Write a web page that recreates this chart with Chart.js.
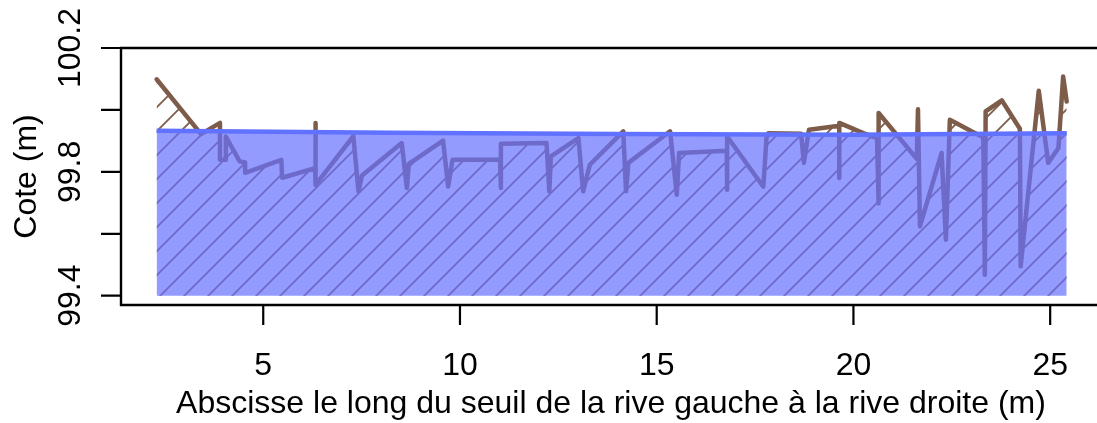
<!DOCTYPE html>
<html>
<head>
<meta charset="utf-8">
<script src="https://cdn.jsdelivr.net/npm/chart.js@4"></script>
<style>
  html, body { margin: 0; padding: 0; background: #fff; }
  canvas { display: block; }
</style>
</head>
<body>
<canvas id="myChart" width="1097" height="423"></canvas>
<script>
// terrain profile along the sill (m)
const profileX = [2.29, 3.42, 3.90, 3.90, 4.05, 4.05, 4.40, 4.54, 4.54, 5.46, 5.48, 6.32, 6.33, 6.33,
  7.29, 7.42, 7.51, 8.52, 8.65, 8.70, 9.57, 9.70, 9.81, 11.02, 11.04, 11.04, 12.20, 12.27, 12.31,
  13.01, 13.13, 13.30, 14.15, 14.22, 14.28, 15.34, 15.51, 15.57, 16.78, 16.79, 16.79, 17.71, 17.79,
  17.84, 18.67, 18.74, 18.87, 19.64, 19.64, 19.64, 20.25, 20.60, 20.64, 20.64, 21.61, 21.64, 21.69,
  22.24, 22.35, 22.45, 23.00, 23.30, 23.34, 23.36, 23.77, 24.23, 24.25, 24.71, 24.95, 25.21, 25.33, 25.42];
const profileY = [100.099, 99.922, 99.958, 99.839, 99.839, 99.914, 99.834, 99.830, 99.797, 99.839, 99.781, 99.812, 99.958, 99.758,
  99.915, 99.737, 99.788, 99.893, 99.748, 99.826, 99.901, 99.753, 99.839, 99.839, 99.748, 99.891, 99.893, 99.737, 99.850,
  99.909, 99.737, 99.823, 99.931, 99.737, 99.829, 99.931, 99.726, 99.861, 99.868, 99.742, 99.914, 99.752, 99.910,
  99.925, 99.923, 99.829, 99.936, 99.949, 99.780, 99.958, 99.925, 99.909, 99.699, 99.990, 99.842, 100.002, 99.624,
  99.861, 99.581, 99.968, 99.931, 99.912, 99.468, 99.995, 100.031, 99.939, 99.495, 100.062, 99.829, 99.877, 100.108, 100.027];

// water surface
const waterX = [2.29, 8.22, 14.07, 19.91, 25.42];
const waterY = [99.933, 99.926, 99.922, 99.920, 99.925];
const bedLevel = 99.4;

const xTicks = [5, 10, 15, 20, 25];
const yTicks = [99.4, 99.6, 99.8, 100.0, 100.2];
const yTickLabels = ["99.4", "", "99.8", "", "100.2"];

const brown = "#7d5c4a";
const font = "32px 'Liberation Sans', Arial, sans-serif";

function hatchPattern(color) {
  const s = 24;
  const c = document.createElement("canvas");
  c.width = s;
  c.height = s;
  const g = c.getContext("2d");
  g.strokeStyle = color;
  g.lineWidth = 1.8;
  g.beginPath();
  g.moveTo(-s / 2, s / 2); g.lineTo(s / 2, -s / 2);
  g.moveTo(0, s); g.lineTo(s, 0);
  g.moveTo(s / 2, s * 1.5); g.lineTo(s * 1.5, s / 2);
  g.stroke();
  return document.getElementById("myChart").getContext("2d").createPattern(c, "repeat");
}

const rAxes = {
  id: "rAxes",
  afterDraw(chart) {
    const { ctx, chartArea, scales } = chart;
    const x = scales.x, y = scales.y;
    ctx.save();
    ctx.strokeStyle = "#000";
    ctx.lineWidth = 2.4;
    ctx.beginPath();
    ctx.moveTo(chart.width, chartArea.top);
    ctx.lineTo(chartArea.left, chartArea.top);
    ctx.lineTo(chartArea.left, chartArea.bottom);
    ctx.lineTo(chart.width, chartArea.bottom);
    ctx.stroke();

    ctx.lineWidth = 2.2;
    ctx.beginPath();
    xTicks.forEach((v) => {
      const px = x.getPixelForValue(v);
      ctx.moveTo(px, chartArea.bottom);
      ctx.lineTo(px, chartArea.bottom + 20);
    });
    yTicks.forEach((v) => {
      const py = y.getPixelForValue(v);
      ctx.moveTo(chartArea.left, py);
      ctx.lineTo(chartArea.left - 20, py);
    });
    ctx.stroke();

    ctx.fillStyle = "#000";
    ctx.font = font;
    ctx.textAlign = "center";
    ctx.textBaseline = "alphabetic";
    xTicks.forEach((v) => {
      ctx.fillText(String(v), x.getPixelForValue(v), 375);
    });
    ctx.fillText("Abscisse le long du seuil de la rive gauche à la rive droite (m)", 611, 413);

    yTicks.forEach((v, i) => {
      if (!yTickLabels[i]) return;
      ctx.save();
      ctx.translate(80, y.getPixelForValue(v));
      ctx.rotate(-Math.PI / 2);
      ctx.fillText(yTickLabels[i], 0, 0);
      ctx.restore();
    });

    ctx.save();
    ctx.translate(36, (chartArea.top + chartArea.bottom) / 2);
    ctx.rotate(-Math.PI / 2);
    ctx.fillText("Cote (m)", 0, 0);
    ctx.restore();
    ctx.restore();
  },
};

new Chart(document.getElementById("myChart"), {
  type: "line",
  data: {
    datasets: [
      {
        label: "Eau",
        data: waterX.map((v, i) => ({ x: v, y: waterY[i] })),
        borderColor: "#6072ff",
        borderWidth: 4.5,
        backgroundColor: "rgba(102, 113, 255, 0.7)",
        fill: { value: bedLevel },
        pointRadius: 0,
        order: 1,
      },
      {
        label: "Profil",
        data: profileX.map((v, i) => ({ x: v, y: profileY[i] })),
        borderColor: brown,
        borderWidth: 4.5,
        borderJoinStyle: "round",
        borderCapStyle: "round",
        backgroundColor: hatchPattern(brown),
        fill: { value: bedLevel },
        pointRadius: 0,
        order: 2,
      },
    ],
  },
  options: {
    responsive: false,
    animation: false,
    layout: { padding: { left: 121, top: 48, right: 0, bottom: 118 } },
    scales: {
      x: { type: "linear", min: 1.385, max: 26.19, display: false },
      y: { min: 99.37, max: 100.2, display: false },
    },
    plugins: {
      legend: { display: false },
      tooltip: { enabled: false },
    },
  },
  plugins: [rAxes],
});
</script>
</body>
</html>
